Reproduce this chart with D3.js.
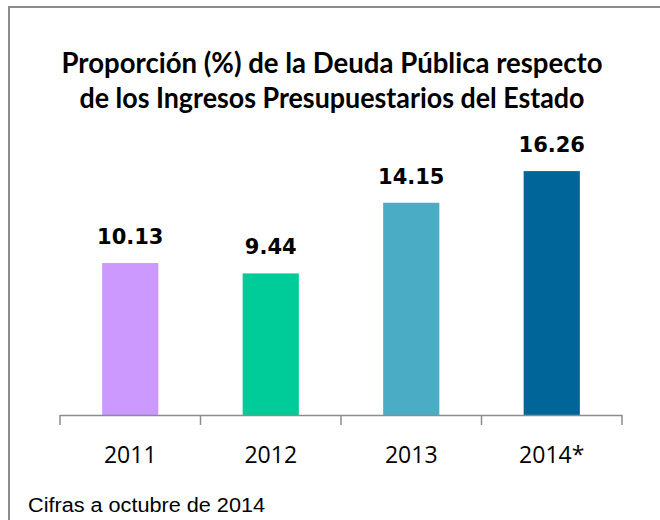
<!DOCTYPE html>
<html>
<head>
    <style>
        body { margin: 0; background: #fff; }
        .title { font-family: Lato, "Open Sans", sans-serif; font-weight: bold; font-size: 29px; fill: #000; text-anchor: middle; }
        .value { font-family: "DejaVu Sans", sans-serif; font-weight: bold; font-size: 21px; text-anchor: middle; }
        .tick-label { font-family: "Open Sans", sans-serif; font-size: 23px; text-anchor: middle; }
        .note { font-family: "Liberation Sans", Arial, sans-serif; font-size: 20px; }
    </style>
    <script src="https://cdn.jsdelivr.net/npm/d3@7"></script>
</head>
<body>
    <svg width="660" height="520"></svg>
    <script>
    var years = ["2011", "2012", "2013", "2014*"];
    var values = [10.13, 9.44, 14.15, 16.26];
    var colors = ["#CC99FF", "#00CC99", "#4BACC6", "#006699"];
    var titleLines = ["Proporción (%) de la Deuda Pública respecto",
                      "de los Ingresos Presupuestarios del Estado"];

    function barChart() {
        var svg = d3.select("svg");

        // outer frame, runs off the right and bottom edges
        svg.append("rect")
           .attr("x", 9).attr("y", 7)
           .attr("width", 700).attr("height", 600)
           .attr("fill", "none")
           .attr("stroke", "#8c8c8c")
           .attr("stroke-width", 2);

        var titleWidths = [541, 505];
        svg.selectAll(".title")
           .data(titleLines)
           .enter().append("text")
           .attr("class", "title")
           .attr("x", 332)
           .attr("y", function(d, i) { return 73 + i * 35; })
           .attr("textLength", function(d, i) { return titleWidths[i]; })
           .attr("lengthAdjust", "spacingAndGlyphs")
           .text(function(d) { return d; });

        var x = d3.scaleBand()
                  .domain(years)
                  .range([60, 622])
                  .paddingInner(0.6)
                  .paddingOuter(0.3);

        var y = d3.scaleLinear()
                  .domain([0, 18])
                  .range([415, 145]);

        svg.selectAll(".bar")
           .data(values)
           .enter().append("rect")
           .attr("class", "bar")
           .attr("x", function(d, i) { return x(years[i]); })
           .attr("y", function(d) { return y(d); })
           .attr("width", x.bandwidth())
           .attr("height", function(d) { return y(0) - y(d); })
           .attr("fill", function(d, i) { return colors[i]; });

        svg.selectAll(".value")
           .data(values)
           .enter().append("text")
           .attr("class", "value")
           .attr("x", function(d, i) { return x(years[i]) + x.bandwidth() / 2; })
           .attr("y", function(d) { return y(d) - 19; })
           .text(function(d) { return d.toFixed(2); });

        // category axis with ticks between the bars
        var axis = svg.append("g");
        axis.append("line")
            .attr("x1", 60).attr("x2", 622)
            .attr("y1", 415.5).attr("y2", 415.5)
            .attr("stroke", "#8c8c8c").attr("stroke-width", 1.5);

        var bounds = years.map(function(d) { return x(d) - x.step() * x.paddingOuter(); });
        bounds.push(622);
        axis.selectAll(".tk")
            .data(bounds)
            .enter().append("line")
            .attr("x1", function(d) { return d; })
            .attr("x2", function(d) { return d; })
            .attr("y1", 415).attr("y2", 425)
            .attr("stroke", "#8c8c8c").attr("stroke-width", 1.5);

        axis.selectAll(".tick-label")
            .data(years)
            .enter().append("text")
            .attr("class", "tick-label")
            .attr("x", function(d) { return x(d) + x.bandwidth() / 2; })
            .attr("y", 463)
            .text(function(d) { return d; });

        svg.append("text")
           .attr("class", "note")
           .attr("x", 28)
           .attr("y", 512)
           .attr("textLength", 237)
           .attr("lengthAdjust", "spacingAndGlyphs")
           .text("Cifras a octubre de 2014");
    }
    barChart();
    </script>
</body>
</html>
